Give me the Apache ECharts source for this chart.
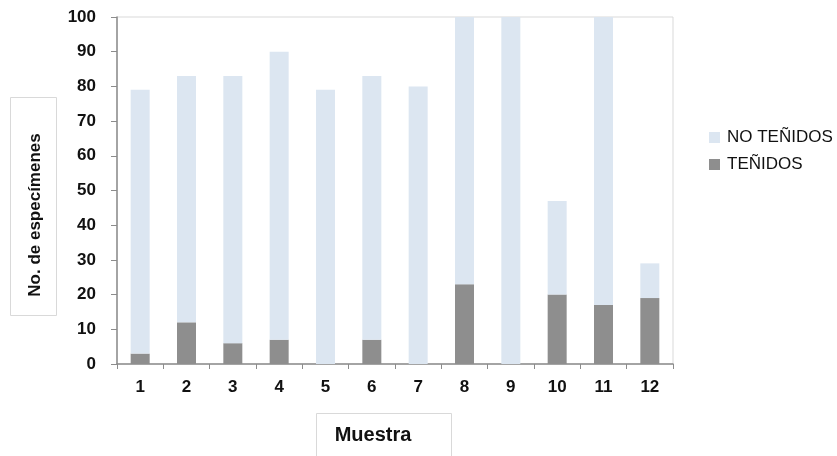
<!DOCTYPE html>
<html>
<head>
<meta charset="utf-8">
<script src="https://cdn.jsdelivr.net/npm/echarts@6/dist/echarts.min.js"></script>
<style>
  html, body { margin: 0; padding: 0; background: #fff; }
  #chart { width: 837px; height: 456px; }
</style>
</head>
<body>
<div id="chart"></div>
<script>
// Sample numbers on the x axis
const muestras = ['1', '2', '3', '4', '5', '6', '7', '8', '9', '10', '11', '12'];
// Stained specimens per sample (bottom of each stack)
const tenidos = [3, 12, 6, 7, 0, 7, 0, 23, 0, 20, 17, 19];
// Unstained specimens per sample (stacked on top)
const noTenidos = [76, 71, 77, 83, 79, 76, 80, 77, 100, 27, 83, 10];
const yTicks = { min: 0, max: 100, interval: 10 };

const chart = echarts.init(document.getElementById('chart'), null, { renderer: 'canvas' });
const FONT = 'Liberation Sans, Arial, sans-serif';
const labelFont = { fontFamily: FONT, fontWeight: 'bold', fontSize: 17, color: '#111111' };

chart.setOption({
  animation: false,
  backgroundColor: '#ffffff',
  grid: { left: 117, right: 164, top: 17, bottom: 92, show: true, borderColor: '#d9d9d9', borderWidth: 1 },
  legend: {
    orient: 'vertical',
    left: 704,
    top: 124,
    itemWidth: 11,
    itemHeight: 11,
    itemGap: 10,
    icon: 'rect',
    data: ['NO TEÑIDOS', 'TEÑIDOS'],
    textStyle: { fontFamily: FONT, fontSize: 17, color: '#111111', padding: [0, 0, 0, 2] }
  },
  xAxis: {
    type: 'category',
    data: muestras,
    axisLine: { lineStyle: { color: '#8c8c8c', width: 1.5 } },
    axisTick: { show: true, alignWithLabel: false, length: 5, lineStyle: { color: '#8c8c8c' } },
    axisLabel: Object.assign({ margin: 15 }, labelFont)
  },
  yAxis: {
    type: 'value',
    min: yTicks.min,
    max: yTicks.max,
    interval: yTicks.interval,
    axisLine: { show: true, lineStyle: { color: '#8c8c8c', width: 1.5 } },
    axisTick: { show: true, length: 6, lineStyle: { color: '#8c8c8c' } },
    splitLine: { show: false },
    axisLabel: Object.assign({ margin: 21 }, labelFont)
  },
  series: [
    {
      name: 'TEÑIDOS',
      type: 'bar',
      stack: 'total',
      data: tenidos,
      barWidth: 19,
      itemStyle: { color: '#8e8e8e' }
    },
    {
      name: 'NO TEÑIDOS',
      type: 'bar',
      stack: 'total',
      data: noTenidos,
      barWidth: 19,
      itemStyle: { color: '#dce6f1' }
    }
  ],
  graphic: [
    {
      type: 'rect',
      left: 10, top: 97,
      shape: { width: 46, height: 218 },
      style: { fill: '#ffffff', stroke: '#d9d9d9', lineWidth: 1 }
    },
    {
      type: 'text',
      x: 35, y: 215,
      rotation: Math.PI / 2,
      style: {
        text: 'No. de especímenes',
        fontFamily: FONT,
        fontWeight: 'bold',
        fontSize: 17,
        fill: '#111111',
        align: 'center',
        verticalAlign: 'middle'
      }
    },
    {
      type: 'rect',
      left: 316, top: 413,
      shape: { width: 135, height: 44 },
      style: { fill: '#ffffff', stroke: '#d9d9d9', lineWidth: 1 }
    },
    {
      type: 'text',
      x: 373, y: 435,
      style: {
        text: 'Muestra',
        fontFamily: FONT,
        fontWeight: 'bold',
        fontSize: 20,
        fill: '#111111',
        align: 'center',
        verticalAlign: 'middle'
      }
    }
  ]
});
</script>
</body>
</html>
